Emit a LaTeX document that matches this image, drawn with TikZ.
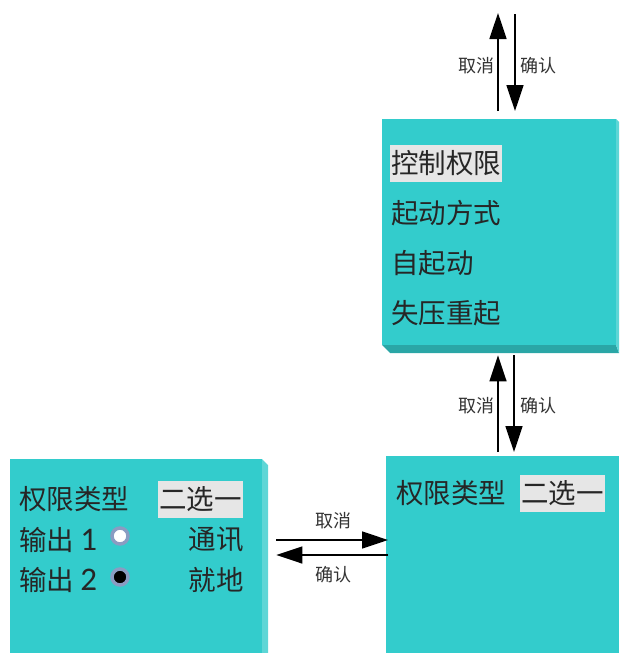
\documentclass[tikz,border=0pt]{standalone}
\usepackage{fontspec}
\setmainfont{Carlito}
\newfontfamily\cjk{Noto Sans CJK SC}
\newfontfamily\digitfont{Carlito}
\usetikzlibrary{arrows.meta}
\definecolor{teal1}{HTML}{33CCCC}
\definecolor{tealdark}{HTML}{2AA6A6}
\definecolor{teallight}{HTML}{5ED6D6}
\definecolor{hl}{HTML}{E6E6E6}
\definecolor{ring}{HTML}{8A9CC2}
\tikzset{
  boxface/.style={fill=teal1, draw=none, inner sep=0pt, anchor=north west},
  bigtxt/.style={font=\cjk\fontsize{27.5}{27.5}\selectfont, inner sep=1pt, text=black!85},
  hltxt/.style={bigtxt, fill=hl, minimum height=37pt},
  lbl/.style={font=\cjk\fontsize{18}{18}\selectfont, text=black!80, inner sep=0pt},
  arr/.style={line width=1.6pt, -{Triangle[length=26pt,width=17pt]}},
  radio/.style={circle, draw=ring, line width=3.5pt, minimum size=16pt, inner sep=0pt},
}
\newcommand{\dg}[1]{{\digitfont\fontsize{33}{33}\selectfont #1}}
\begin{document}
\begin{tikzpicture}[x=1pt,y=-1pt]
\useasboundingbox (0,0) rectangle (619,653);
% top box
\node[boxface, minimum width=234pt, minimum height=226pt] (topbox) at (382,119) {};
\fill[tealdark] (382,345) -- (616,345) -- (619,353) -- (390,353) -- cycle;
\fill[teallight] (616,119) -- (619,122) -- (619,353) -- (616,345) -- cycle;
% bottom right box
\node[boxface, minimum width=233pt, minimum height=197pt] (brbox) at (386,456) {};
% bottom left box
\node[boxface, minimum width=252pt, minimum height=194pt] (blbox) at (10,459) {};
\fill[teallight] (262,459) -- (268,465) -- (268,653) -- (262,653) -- cycle;

% top box texts
\node[hltxt, anchor=west] (t1) at (390,163) {控制权限};
\node[bigtxt, anchor=west] (t2) at (390,213) {起动方式};
\node[bigtxt, anchor=west] (t3) at (390,263) {自起动};
\node[bigtxt, anchor=west] (t4) at (390,313) {失压重起};

% bottom right texts
\node[bigtxt, anchor=west] (r1) at (395,493) {权限类型};
\node[hltxt, anchor=west] (r2) at (520,493) {二选一};

% bottom left texts
\node[bigtxt, anchor=west] (l1) at (18,499) {权限类型};
\node[hltxt, anchor=west] (l2) at (158,499) {二选一};
\node[bigtxt, anchor=west] (l3) at (18,540) {输出 \dg{1}};
\node[bigtxt, anchor=west] (l4) at (18,580) {输出 \dg{2}};
\node[bigtxt, anchor=east] (l5) at (245,540) {通讯};
\node[bigtxt, anchor=east] (l6) at (245,580) {就地};
% radio buttons
\node[radio, fill=white] (rb1) at (120,536) {};
\node[radio, fill=black] (rb2) at (120,577) {};

% top arrows
\coordinate (topA) at (498,13);
\coordinate (topB) at (515,14);
\draw[arr] ([yshift=8pt]topbox.north -| topA) -- (topA);
\draw[arr] (topB) -- ([yshift=8pt]topbox.north -| topB);
\node[lbl] (c1) at (476,66) {取消};
\node[lbl] (q1) at (538,66) {确认};

% middle arrows
\coordinate (mA) at (498,0);
\coordinate (mB) at (514,0);
\draw[arr] ([yshift=4pt]brbox.north -| mA) -- ([yshift=-10pt]topbox.south -| mA);
\draw[arr] ([yshift=-10pt]topbox.south -| mB) -- ([yshift=4pt]brbox.north -| mB);
\node[lbl] (c2) at (476,406) {取消};
\node[lbl] (q2) at (538,406) {确认};

% horizontal arrows
\coordinate (hA) at (0,540);
\coordinate (hB) at (0,555);
\draw[arr] ([xshift=14pt]blbox.east |- hA) -- ([xshift=2pt]brbox.west |- hA);
\draw[arr] ([xshift=2pt]brbox.west |- hB) -- ([xshift=14pt]blbox.east |- hB);
\node[lbl] (c3) at (333,521) {取消};
\node[lbl] (q3) at (333,575) {确认};
\end{tikzpicture}
\end{document}
